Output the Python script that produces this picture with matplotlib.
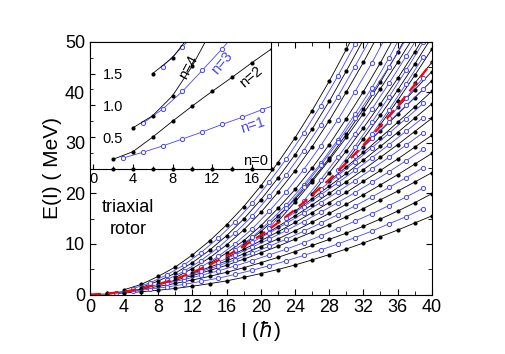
import matplotlib
matplotlib.use('Agg')
import matplotlib.pyplot as plt
from matplotlib.ticker import MultipleLocator, FixedLocator

plt.rcParams['font.family'] = ['Liberation Sans', 'DejaVu Sans']
plt.rcParams['mathtext.fontset'] = 'dejavusans'

# ---- main panel: E(I) in MeV, each band given by its first spin (step 2) ----
# black bands (even I) below the separatrix, counted from the yrast line
low_even_start = [0, 2, 8, 12, 16, 20, 24, 28, 32, 36]
low_even = [
    [0, 0.1, 0.3, 0.55, 0.85, 1.2, 1.65, 2.15, 2.7, 3.4, 4.15, 4.95, 5.85, 6.85, 7.9, 9.0, 10.2, 11.45, 12.75, 14.15, 15.55],
    [0.25, 0.57, 1.05, 1.6, 2.2, 2.87, 3.6, 4.4, 5.3, 6.3, 7.35, 8.5, 9.7, 10.9, 12.15, 13.5, 14.95, 16.5, 18.15, 19.95],
    [2.0, 2.82, 3.75, 4.75, 5.8, 7.0, 8.25, 9.55, 10.95, 12.35, 13.8, 15.4, 17.0, 18.75, 20.45, 22.25, 24.1],
    [4.2, 5.4, 6.65, 8.05, 9.5, 11.0, 12.6, 14.3, 16.05, 17.85, 19.75, 21.7, 23.7, 25.8, 27.9],
    [7.3, 8.95, 10.65, 12.4, 14.25, 16.2, 18.2, 20.2, 22.4, 24.55, 26.8, 29.15, 31.5],
    [11.45, 13.45, 15.55, 17.75, 20.0, 22.3, 24.7, 27.15, 29.65, 32.25, 34.85],
    [16.5, 18.95, 21.45, 23.95, 26.6, 29.3, 32.05, 34.9, 37.7],
    [22.45, 25.25, 28.1, 31.05, 34.05, 37.1, 40.2],
    [29.25, 32.4, 35.65, 38.95, 42.3],
    [37.0, 40.5, 44.1],
]
# blue bands (odd I) below the separatrix
low_odd_start = [3, 7, 11, 15, 19, 23, 27, 31, 35]
low_odd = [
    [0.37, 0.68, 1.06, 1.49, 2.0, 2.6, 3.23, 3.98, 4.81, 5.71, 6.67, 7.73, 8.8, 10.0, 11.25, 12.55, 14.0, 15.4, 17.0],
    [1.64, 2.24, 2.97, 3.79, 4.67, 5.65, 6.72, 7.85, 9.0, 10.25, 11.6, 13.05, 14.5, 16.0, 17.6, 19.3, 21.05],
    [3.5, 4.56, 5.67, 6.88, 8.19, 9.55, 10.98, 12.52, 14.12, 15.79, 17.52, 19.32, 21.19, 23.12, 25.1],
    [6.4, 7.85, 9.39, 11.0, 12.67, 14.44, 16.28, 18.18, 20.16, 22.2, 24.3, 26.48, 28.7],
    [10.35, 12.19, 14.1, 16.11, 18.19, 20.33, 22.54, 24.82, 27.16, 29.57, 32.03],
    [15.15, 17.4, 19.72, 22.1, 24.55, 27.07, 29.65, 32.3, 35.0],
    [20.85, 23.51, 26.24, 29.04, 31.9, 34.82, 37.8],
    [27.5, 30.9, 34.2, 37.4, 40.6],
    [35.0, 38.9, 42.9],
]
# black bands above the separatrix, counted from the top
up_even_start = [4, 6, 10, 14, 18, 22, 26, 30, 34, 38]
up_even = [
    [0.95, 2.0, 3.6, 5.45, 7.85, 10.6, 13.8, 17.4, 21.5, 26.1, 31.0, 36.4, 42.2, 48.5, 55.0],
    [1.39, 2.68, 4.23, 6.32, 8.77, 11.66, 14.95, 18.75, 23.04, 27.64, 32.73, 38.22, 44.22, 50.41],
    [3.38, 5.14, 7.26, 9.82, 12.79, 16.25, 20.21, 24.48, 29.24, 34.41, 40.07, 45.93, 52.2],
    [6.18, 8.22, 10.66, 13.6, 17.04, 20.78, 25.02, 29.66, 34.8, 40.14, 45.88, 52.12],
    [9.88, 12.44, 15.5, 18.85, 22.71, 26.96, 31.72, 36.68, 42.03, 47.89, 54.14],
    [14.47, 18.29, 22.34, 26.6, 31.09, 35.81, 40.75, 45.92, 51.3],
    [19.96, 24.07, 28.4, 32.96, 37.73, 42.74, 47.97, 53.42],
    [26.34, 30.81, 35.5, 40.42, 45.56, 50.92],
    [33.62, 38.37, 43.33, 48.52],
    [41.8, 45.9],
]
# blue bands above the separatrix
up_odd_start = [5, 9, 13, 17, 21, 25, 29, 33]
up_odd = [
    [1.14, 2.29, 3.89, 5.85, 8.3, 11.15, 14.4, 18.05, 22.31, 26.86, 31.91, 37.36, 43.21, 49.47, 55.92],
    [2.94, 4.58, 6.72, 9.26, 12.2, 15.54, 19.48, 23.72, 28.46, 33.6, 39.14, 45.08, 51.22],
    [5.4, 7.53, 10.07, 13.0, 16.53, 20.37, 24.7, 29.43, 34.57, 40.1, 45.83, 52.17],
    [8.87, 11.34, 14.41, 17.79, 21.66, 25.93, 30.6, 35.67, 40.94, 46.82, 53.09],
    [13.24, 17.12, 21.21, 25.54, 30.08, 34.86, 39.86, 45.07, 50.52],
    [18.5, 22.71, 27.14, 31.81, 36.69, 41.79, 47.13, 52.68],
    [24.66, 29.26, 34.08, 39.12, 44.39, 49.88],
    [31.72, 36.58, 41.67, 46.98],
]
# separatrix (red dashed)
sep_I = list(range(0, 41, 2))
sep_E = [0, 0.17, 0.56, 1.18, 2.02, 3.08, 4.37, 5.88, 7.62, 9.58, 11.76, 14.17,
         16.8, 19.66, 22.74, 26.04, 29.57, 33.32, 37.3, 41.5, 45.92]

# ---- inset: excitation energy above yrast (MeV) ----
in_start = [2, 3, 2, 5, 4, 7, 6]
in_E = [
    [0, 0, 0, 0, 0, 0, 0, 0, 0],
    [0.17, 0.26, 0.36, 0.47, 0.58, 0.70, 0.81, 0.93, 1.04],
    [0.15, 0.27, 0.50, 0.75, 0.99, 1.22, 1.44, 1.67, 1.89],
    [0.715, 0.94, 1.22, 1.55, 1.89, 2.25],
    [0.645, 0.837, 1.15, 1.62, 2.2],
    [1.61, 1.92, 2.25],
    [1.5, 1.75, 2.15],
]
in_labels = ['n=0', 'n=1', 'n=2', 'n=3', 'n=4']

BLUE = '#4444ff'


def draw_band(ax, i0, E, odd, clip=True):
    I = list(range(i0, i0 + 2 * len(E), 2))
    if odd:
        ax.plot(I, E, '-', color=BLUE, lw=0.6, marker='o', ms=3.0, mfc='white',
                mec=BLUE, mew=0.7, clip_on=clip)
    else:
        ax.plot(I, E, '-', color='k', lw=0.6, marker='o', ms=3.0, mfc='k',
                mec='k', mew=0, clip_on=clip)


fig = plt.figure(figsize=(5.05, 3.54), dpi=100)
ax = fig.add_axes([0.178, 0.168, 0.677, 0.714])

for i0, E in zip(low_even_start, low_even):
    draw_band(ax, i0, E, False)
for i0, E in zip(up_even_start, up_even):
    draw_band(ax, i0, E, False)
for i0, E in zip(low_odd_start, low_odd):
    draw_band(ax, i0, E, True)
for i0, E in zip(up_odd_start, up_odd):
    draw_band(ax, i0, E, True)
ax.plot(sep_I, sep_E, color='red', lw=1.6, dashes=(5, 3))

ax.set_xlim(0, 40)
ax.set_ylim(0, 50)
ax.xaxis.set_major_locator(MultipleLocator(4))
ax.xaxis.set_minor_locator(MultipleLocator(2))
ax.yaxis.set_major_locator(MultipleLocator(10))
ax.yaxis.set_minor_locator(MultipleLocator(5))
ax.tick_params(which='both', direction='in', top=True, right=True, labelsize=13)
ax.tick_params(which='major', length=4)
ax.tick_params(which='minor', length=3)
ax.set_xlabel(r'I ($\hbar$)', fontsize=15, labelpad=2)
ax.set_ylabel('E(I) ( MeV)', fontsize=15, labelpad=2)
ax.text(0.112, 0.30, 'triaxial\nrotor', transform=ax.transAxes, fontsize=13,
        ha='center', va='center', linespacing=1.35)

# inset
ins = fig.add_axes([0.178, 0.523, 0.358, 0.359])
ins.set_facecolor('white')
for k, (i0, E) in enumerate(zip(in_start, in_E)):
    draw_band(ins, i0, E, (i0 % 2 == 1), clip=(k != 0))
ins.set_xlim(-0.33, 17.9)
ins.set_ylim(0, 2.0)
ins.xaxis.set_major_locator(FixedLocator([0, 4, 8, 12, 16]))
ins.xaxis.set_minor_locator(MultipleLocator(2))
ins.yaxis.set_major_locator(FixedLocator([0.5, 1.0, 1.5]))
ins.yaxis.set_minor_locator(MultipleLocator(0.25))
ins.tick_params(which='both', direction='in', labelsize=10.5)
ins.tick_params(which='major', length=3.5)
ins.tick_params(which='minor', length=2.5)
ins.tick_params(axis='y', pad=-9)
for lab in ins.get_yticklabels():
    lab.set_horizontalalignment('left')
ins.tick_params(axis='x', pad=2)

ins.text(9.57, 1.60, in_labels[4], rotation=62, ha='center', va='center', fontsize=10.5)
ins.text(13.0, 1.67, in_labels[3], rotation=50, ha='center', va='center', fontsize=10.5, color=BLUE)
ins.text(15.9, 1.45, in_labels[2], rotation=40, ha='center', va='center', fontsize=10.5)
ins.text(16.1, 0.69, in_labels[1], rotation=18, ha='center', va='center', fontsize=10.5, color=BLUE)
ins.text(16.4, 0.124, in_labels[0], ha='center', va='center', fontsize=10.5)

fig.savefig('out.png', dpi=100)
